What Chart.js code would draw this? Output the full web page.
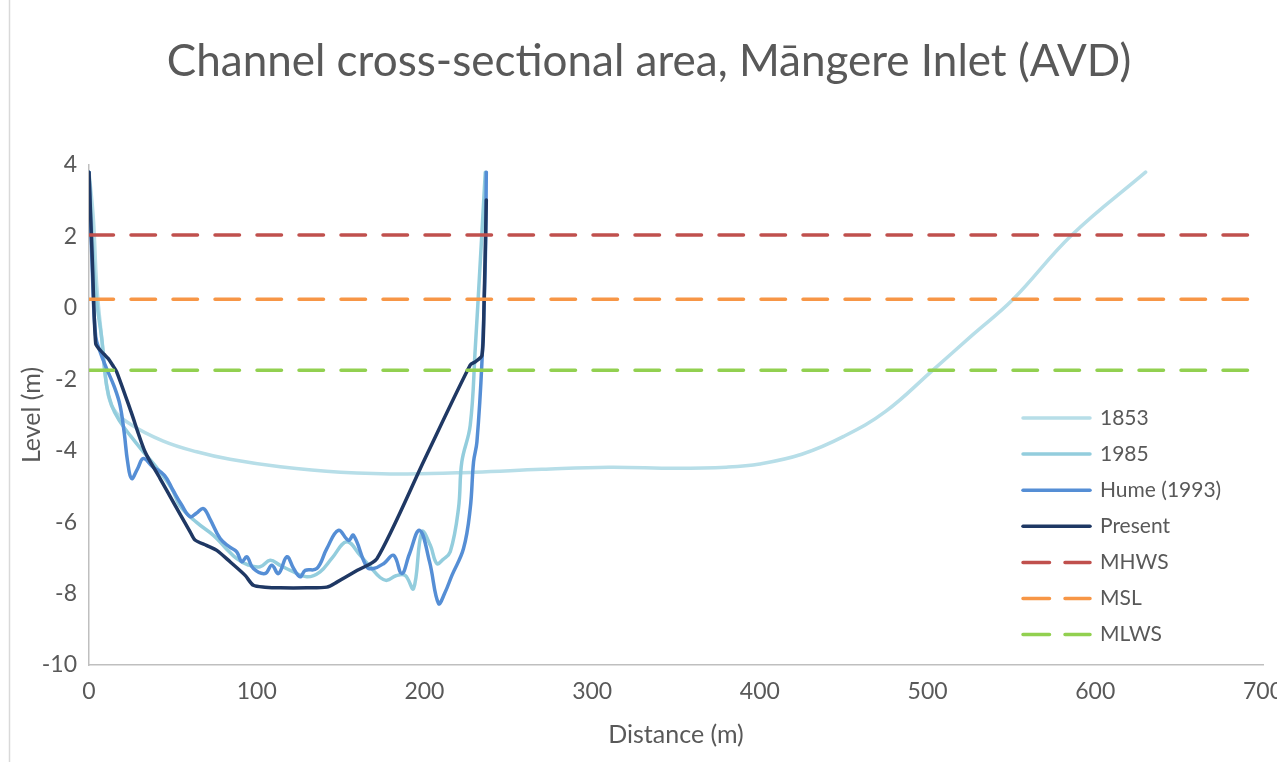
<!DOCTYPE html>
<html lang="en">
<head>
    <meta charset="UTF-8">
    <title>Channel cross-sectional area</title>
    <script src="https://cdn.jsdelivr.net/npm/chart.js"></script>
    <style>
        body { margin:0; background:#fff; }
    </style>
</head>
<body>
    <canvas id="myChart" width="1277" height="762"></canvas>

    <script>
        // series values (distance m, level m)
        const dist1853 = [0, 2.6, 4.6, 7.6, 10.5, 14.5, 24.5, 44.3, 64.2, 84.1, 114, 150, 190, 230, 270, 310, 350, 380, 400, 425, 450, 475, 503, 527, 551, 586, 630];
        const lvl1853  = [3.8, 2.5, 0.64, -0.86, -2.17, -2.82, -3.25, -3.73, -4.03, -4.24, -4.45, -4.6, -4.65, -4.6, -4.52, -4.46, -4.49, -4.46, -4.37, -4.1, -3.6, -2.9, -1.75, -0.75, 0.24, 2.04, 3.8];

        const dist1985 = [0, 2.5, 4.6, 7.6, 10.5, 13.5, 18, 25, 32.4, 40, 49.3, 54.3, 64, 74.2, 81, 88.1, 95, 102, 108, 114, 120, 129.9, 137.8, 145, 153.7, 161.7, 167.7, 173.6, 177.6, 183, 188.5, 193.5, 198.5, 203.5, 207.4, 211, 215.4, 220.3, 222.3, 227.3, 230.3, 233.3, 236.3];
        const lvl1985  = [3.8, 1.5, 0.17, -0.86, -2.17, -2.73, -3.15, -3.6, -4.03, -4.45, -5.06, -5.55, -6.0, -6.37, -6.7, -7.02, -7.2, -7.25, -7.07, -7.21, -7.35, -7.53, -7.39, -7.0, -6.55, -6.93, -7.25, -7.55, -7.63, -7.5, -7.49, -7.86, -6.27, -6.65, -7.16, -7.05, -6.83, -5.62, -4.31, -3.29, -1.14, 1.29, 3.8];

        const distHume = [0, 2, 4, 6.6, 10.5, 15, 18.5, 21, 23, 25.4, 29, 32.4, 38, 45, 50, 55, 60.3, 64, 68.2, 72, 78.2, 84, 88.1, 91.1, 94.1, 98, 105, 109, 113, 118, 122, 125.9, 128.9, 135.8, 141.8, 148.7, 154.7, 157.7, 165.6, 169.6, 176, 181.6, 186.5, 191, 197.1, 203, 208.4, 212, 216.4, 223.3, 227.3, 229.3, 231.3, 234.3, 236.3, 236.9];
        const lvlHume  = [3.8, 1.0, -0.8, -1.23, -1.7, -2.2, -2.73, -3.5, -4.3, -4.78, -4.5, -4.22, -4.45, -4.69, -5.1, -5.5, -5.85, -5.75, -5.62, -5.9, -6.46, -6.7, -6.83, -7.11, -6.97, -7.3, -7.44, -7.21, -7.44, -6.97, -7.3, -7.53, -7.35, -7.3, -6.74, -6.23, -6.51, -6.37, -7.25, -7.3, -7.15, -6.93, -7.44, -6.9, -6.23, -7.1, -8.28, -8.0, -7.49, -6.74, -5.62, -4.31, -3.75, -1.51, 1.29, 3.8];

        const distPresent = [0, 2, 4, 6.6, 9, 11.5, 14, 16.5, 25, 33.4, 42.4, 51, 60.3, 63.2, 70, 76.2, 84.1, 93.1, 98, 105, 114, 130, 141.8, 147.8, 160, 171.7, 200, 227.3, 230.3, 234.3, 235.5, 236.9];
        const lvlPresent  = [3.8, 1.3, -1.0, -1.18, -1.3, -1.42, -1.6, -1.79, -2.9, -4.03, -4.78, -5.5, -6.27, -6.5, -6.65, -6.79, -7.11, -7.49, -7.77, -7.82, -7.84, -7.84, -7.82, -7.68, -7.35, -7.02, -4.25, -1.6, -1.51, -1.33, 0, 3.02];

        // tidal levels
        const tideNames  = ['MHWS', 'MSL', 'MLWS'];
        const tideLevels = [2.04, 0.24, -1.75];
        const tideSpan   = [0, 700];

        const xTicks = [0, 100, 200, 300, 400, 500, 600, 700];
        const yTicks = [-10, -8, -6, -4, -2, 0, 2, 4];

        const toPts = (xs, ys) => xs.map((x, i) => ({ x: x, y: ys[i] }));

        const FONT = 'Lato';
        const TXT = '#595959';

        // excel draws later series on top -> higher order = drawn earlier
        const lineSet = (label, xs, ys, color, tension, ord) => ({
            label: label,
            data: toPts(xs, ys),
            borderColor: color,
            backgroundColor: color,
            borderWidth: 3.5,
            pointRadius: 0,
            tension: tension,
            borderCapStyle: 'round',
            borderJoinStyle: 'round',
            fill: false,
            order: ord
        });

        const tideColors = ['#c0504d', '#f79646', '#92d050'];
        const tideSets = tideNames.map((n, i) => ({
            label: n,
            data: tideSpan.map(x => ({ x: x, y: tideLevels[i] })),
            borderColor: tideColors[i],
            backgroundColor: tideColors[i],
            borderWidth: 3.5,
            borderDash: [24.5, 17.5],
            borderCapStyle: 'round',
            pointRadius: 0,
            fill: false,
            order: 3 - i
        }));

        const datasets = [
            lineSet('1853', dist1853, lvl1853, '#b7dee8', 0.4, 7),
            lineSet('1985', dist1985, lvl1985, '#93cddd', 0.4, 6),
            lineSet('Hume (1993)', distHume, lvlHume, '#558ed5', 0.4, 5),
            lineSet('Present', distPresent, lvlPresent, '#1f3864', 0.25, 4)
        ].concat(tideSets);

        // title, border and legend drawn in the picture's spots
        const extras = {
            id: 'extras',
            beforeDraw(chart) {
                const c = chart.ctx;
                c.save();
                c.fillStyle = '#fff';
                c.fillRect(0, 0, chart.width, chart.height);
                c.strokeStyle = '#d9d9d9';
                c.lineWidth = 1.5;
                c.beginPath();
                c.moveTo(9.5, 0);
                c.lineTo(9.5, chart.height);
                c.stroke();
                c.restore();
            },
            afterDraw(chart) {
                const c = chart.ctx;
                c.save();
                c.fillStyle = TXT;
                c.font = '44px ' + FONT;
                c.textAlign = 'center';
                c.textBaseline = 'middle';
                c.fillText('Channel cross-sectional area, M\u0101ngere Inlet (AVD)', 649, 62);

                c.font = '21px ' + FONT;
                c.textAlign = 'left';
                chart.data.datasets.forEach((ds, i) => {
                    const y = 418 + i * 36.1;
                    c.strokeStyle = ds.borderColor;
                    c.lineWidth = 3.5;
                    c.lineCap = 'round';
                    c.setLineDash(ds.borderDash ? [26.5, 15.5] : []);
                    c.beginPath();
                    c.moveTo(1023, y);
                    c.lineTo(1090, y);
                    c.stroke();
                    c.fillText(ds.label, 1100, y);
                });
                c.restore();
            }
        };

        const ctx = document.querySelector('#myChart').getContext('2d');
        const myChart = new Chart(ctx, {
            type: 'line',
            data: { datasets: datasets },
            options: {
                responsive: false,
                animation: false,
                layout: { padding: { top: 165, right: 14, bottom: 0, left: 9 } },
                plugins: {
                    legend: { display: false },
                    tooltip: { enabled: false }
                },
                scales: {
                    x: {
                        type: 'linear',
                        min: 0, max: 700,
                        afterFit: (s) => { s.height = 97; s.paddingRight = 0; s.paddingLeft = 0; },
                        afterBuildTicks: (s) => { s.ticks = xTicks.map(v => ({ value: v })); },
                        grid: { display: false, drawTicks: false },
                        border: { display: true, color: '#bfbfbf', width: 1.5 },
                        ticks: { color: TXT, font: { family: FONT, size: 23 }, padding: 13 },
                        title: { display: true, text: 'Distance (m)', color: TXT, font: { family: FONT, size: 25 }, padding: { top: 0, bottom: 12 } }
                    },
                    y: {
                        type: 'linear',
                        min: -10, max: 4,
                        afterFit: (s) => { s.width = 80; },
                        afterBuildTicks: (s) => { s.ticks = yTicks.map(v => ({ value: v })); },
                        grid: { display: false, drawTicks: false },
                        border: { display: true, color: '#bfbfbf', width: 1.5 },
                        ticks: { color: TXT, font: { family: FONT, size: 23 }, padding: 12 },
                        title: { display: true, text: 'Level (m)', color: TXT, font: { family: FONT, size: 25 }, padding: { top: 8, bottom: 0 } }
                    }
                }
            },
            plugins: [extras]
        });
    </script>
</body>
</html>
